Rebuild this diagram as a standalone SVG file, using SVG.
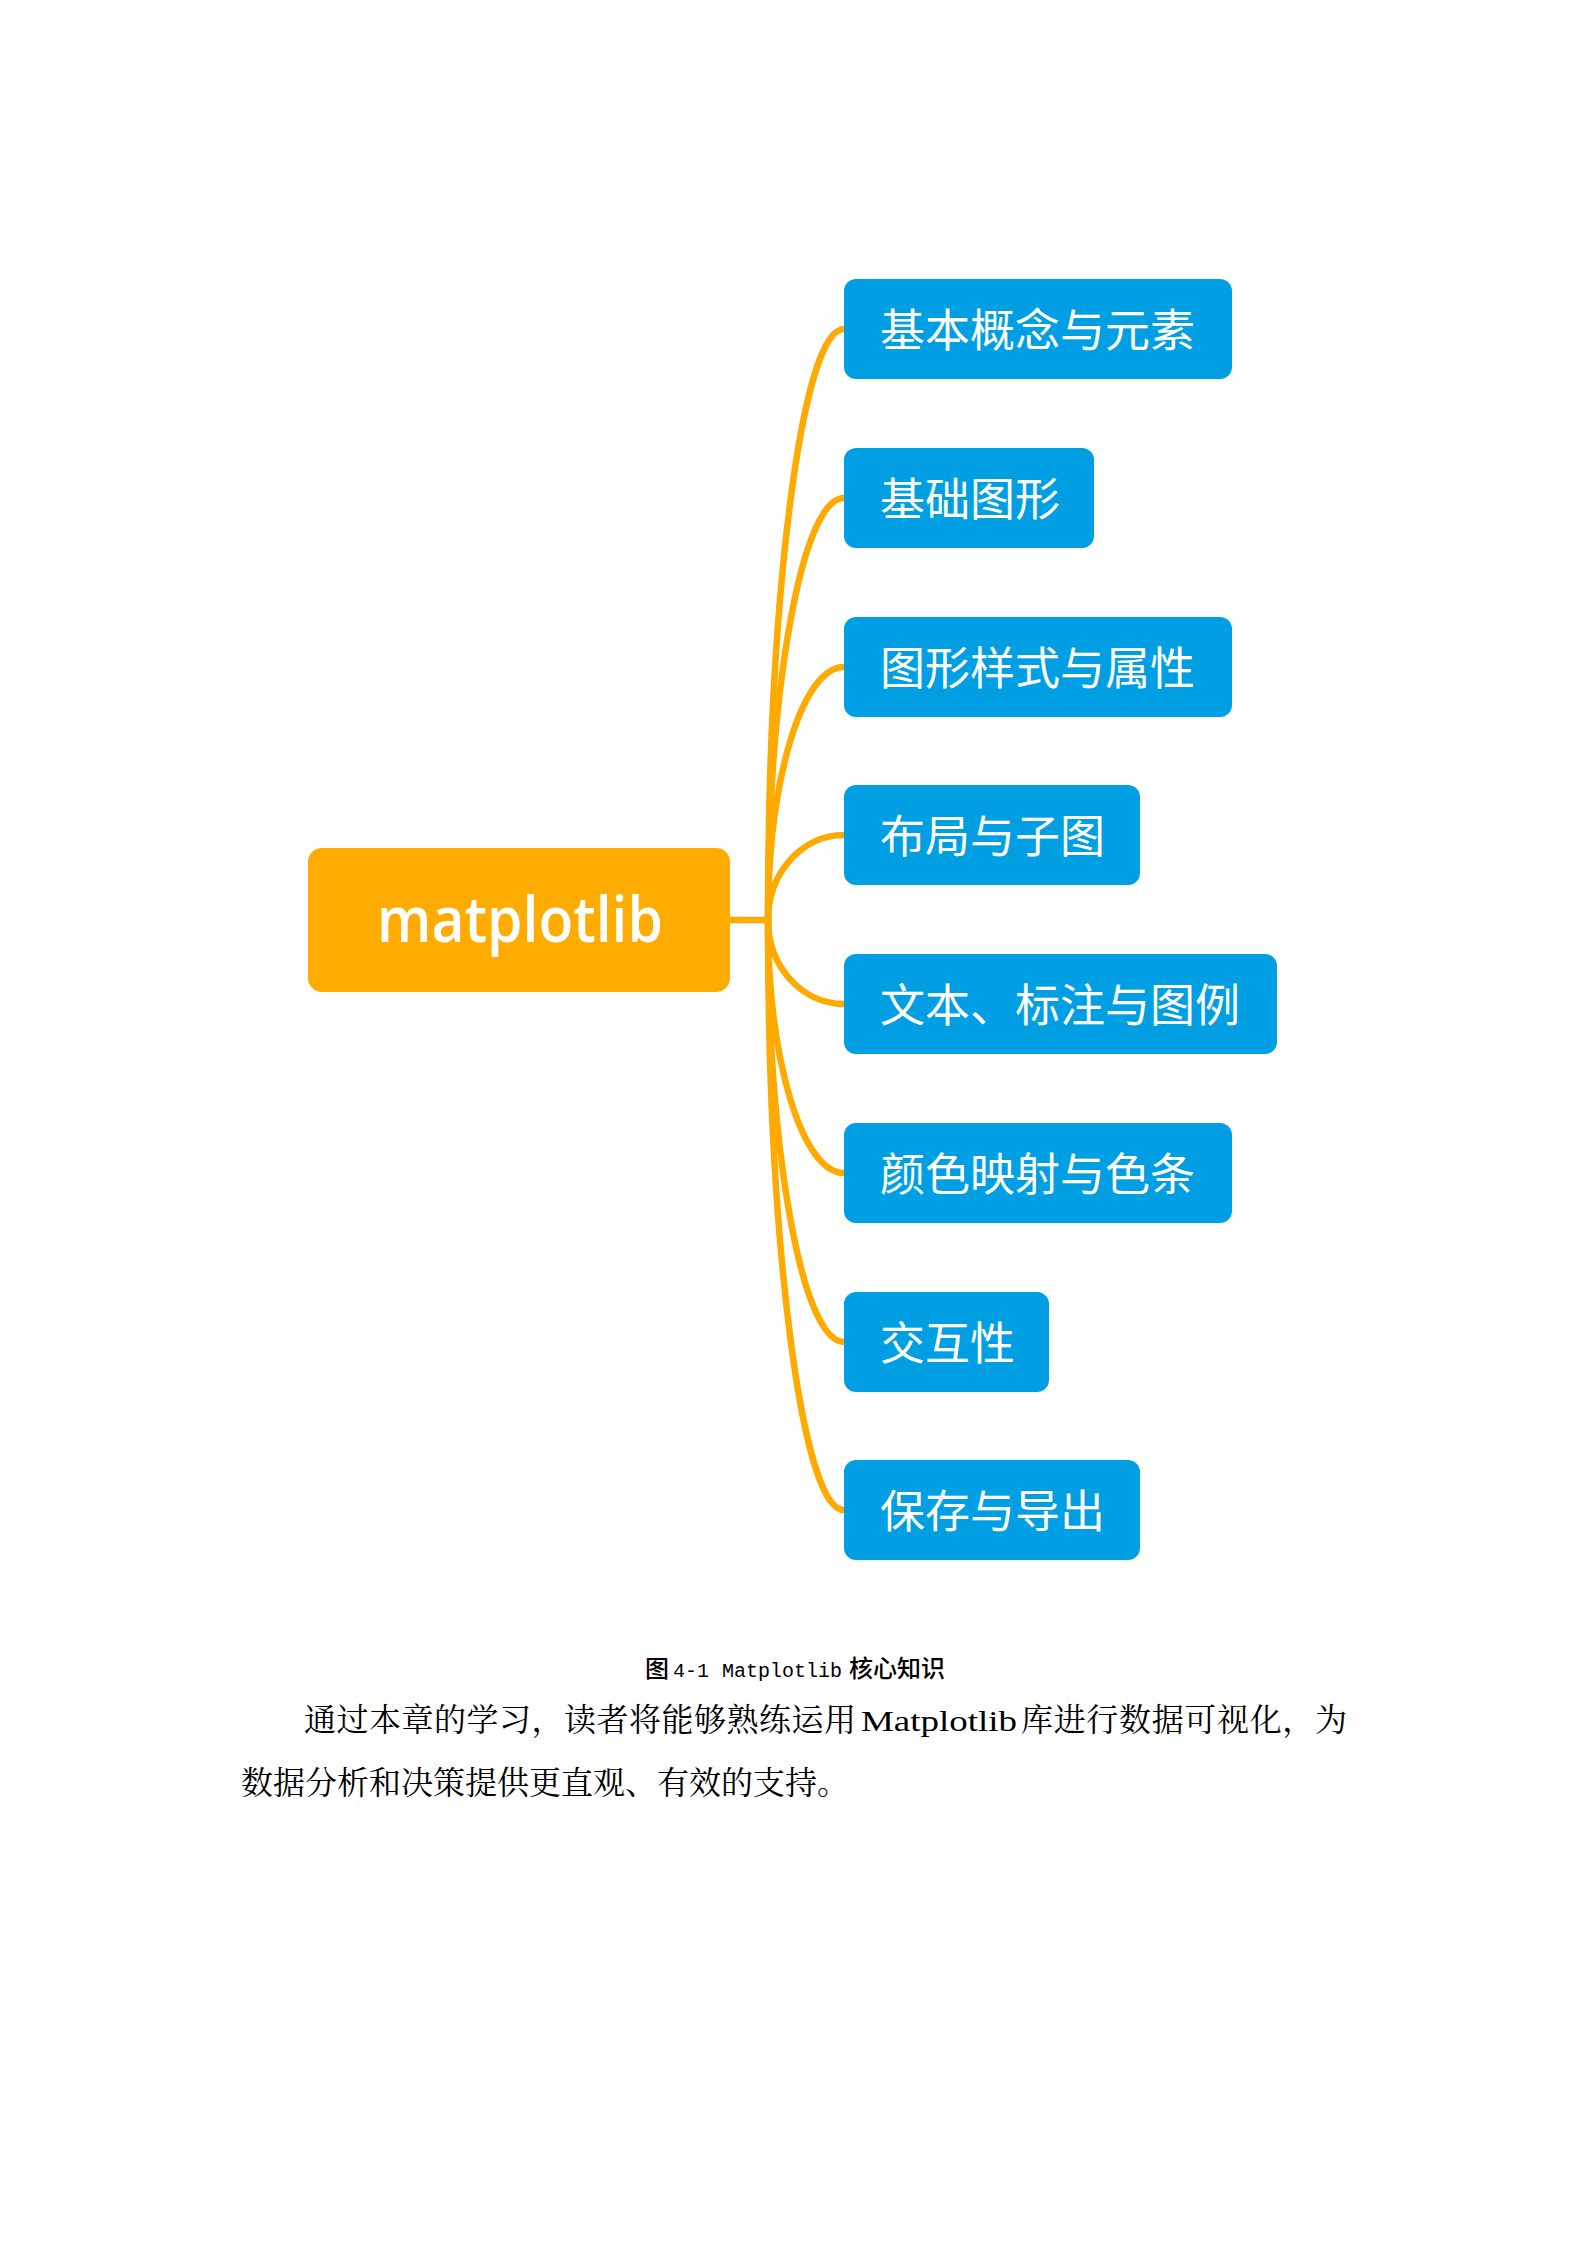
<svg xmlns="http://www.w3.org/2000/svg" width="1587" height="2245" viewBox="0 0 1587 2245">
<style>
.bg{fill:#ffffff}
.conn{fill:none;stroke:#FFAA00;stroke-width:6.5;stroke-linecap:round}
.root rect{fill:#FFAB00}
.root text{fill:#ffffff;font-family:"Open Sans","Noto Sans",sans-serif;font-weight:600;font-size:63px;text-anchor:middle}
.topic rect{fill:#009FE3}
.topic text{fill:#ffffff;font-family:"Noto Sans CJK SC",sans-serif;font-size:45px}
.cap{fill:#000000;font-family:"Noto Sans CJK SC",sans-serif;font-size:24px;font-weight:500}
.capm{font-family:"Liberation Mono",monospace;font-weight:400;font-size:20px}
.body{fill:#000000;font-family:"Noto Serif CJK SC","Noto Sans CJK SC",serif;font-size:32px}
.bodym{font-family:"Liberation Serif",serif;font-size:30px}
</style>
<rect class="bg" x="0" y="0" width="1587" height="2245"/>
<g id="connectors">
<path class="conn" d="M730 920 H768"/>
<path class="conn" d="M768 920 C768 593.6 802 329 844 329"/>
<path class="conn" d="M768 920 C768 686.9 802 498 844 498"/>
<path class="conn" d="M768 920 C768 780.3 802 667 844 667"/>
<path class="conn" d="M768 920 C768 873.1 802 835 844 835"/>
<path class="conn" d="M768 920 C768 966.4 802 1004 844 1004"/>
<path class="conn" d="M768 920 C768 1059.7 802 1173 844 1173"/>
<path class="conn" d="M768 920 C768 1153.1 802 1342 844 1342"/>
<path class="conn" d="M768 920 C768 1245.9 802 1510 844 1510"/>
</g>
<g id="node-root" class="root">
<rect x="308" y="848" width="422" height="144" rx="14"/>
<text x="520" y="942" textLength="286" lengthAdjust="spacingAndGlyphs">matplotlib</text>
</g>
<g id="node-1" class="topic">
<rect x="844" y="279" width="388" height="100" rx="12"/>
<text x="880" y="347">基本概念与元素</text>
</g>
<g id="node-2" class="topic">
<rect x="844" y="448" width="250" height="100" rx="12"/>
<text x="880" y="516">基础图形</text>
</g>
<g id="node-3" class="topic">
<rect x="844" y="617" width="388" height="100" rx="12"/>
<text x="880" y="685">图形样式与属性</text>
</g>
<g id="node-4" class="topic">
<rect x="844" y="785" width="296" height="100" rx="12"/>
<text x="880" y="853">布局与子图</text>
</g>
<g id="node-5" class="topic">
<rect x="844" y="954" width="433" height="100" rx="12"/>
<text x="880" y="1022">文本、标注与图例</text>
</g>
<g id="node-6" class="topic">
<rect x="844" y="1123" width="388" height="100" rx="12"/>
<text x="880" y="1191">颜色映射与色条</text>
</g>
<g id="node-7" class="topic">
<rect x="844" y="1292" width="205" height="100" rx="12"/>
<text x="880" y="1360">交互性</text>
</g>
<g id="node-8" class="topic">
<rect x="844" y="1460" width="296" height="100" rx="12"/>
<text x="880" y="1528">保存与导出</text>
</g>
<g id="caption">
<text class="cap" y="1677"><tspan x="645">图</tspan><tspan class="capm" x="673">4-1</tspan><tspan class="capm" x="722">Matplotlib</tspan><tspan x="849">核心知识</tspan></text>
</g>
<g id="body">
<text class="body" y="1731"><tspan x="304" textLength="552" lengthAdjust="spacing">通过本章的学习，读者将能够熟练运用</tspan><tspan class="bodym" x="861" textLength="156" lengthAdjust="spacingAndGlyphs">Matplotlib</tspan><tspan x="1021" textLength="326" lengthAdjust="spacing">库进行数据可视化，为</tspan></text>
<text class="body" x="241" y="1794">数据分析和决策提供更直观、有效的支持。</text>
</g>
</svg>
